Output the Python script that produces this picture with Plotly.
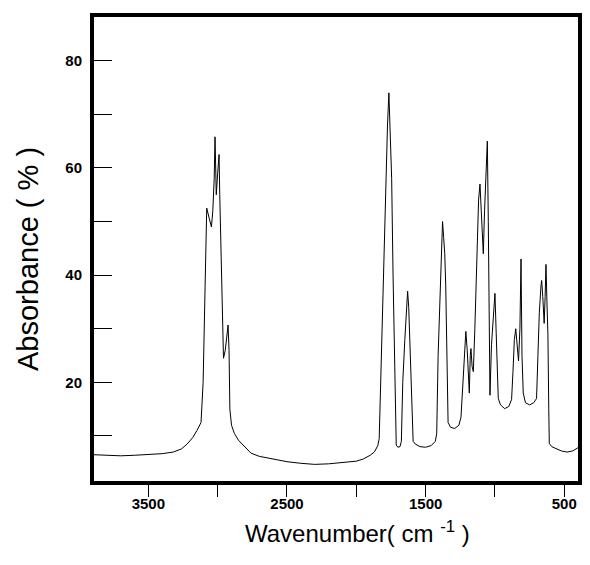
import plotly.graph_objects as go

wavenumber = [3892, 3800, 3700, 3600, 3500, 3400, 3320, 3260, 3220, 3180, 3150, 3120,
              3105, 3095, 3085, 3079, 3060, 3045, 3035, 3025, 3019, 3010, 3000, 2990,
              2985, 2978, 2970, 2962, 2958, 2945, 2935, 2925, 2918, 2912, 2900, 2880,
              2850, 2800, 2760, 2700, 2600, 2500, 2400, 2300, 2200, 2100, 2000, 1950,
              1900, 1870, 1845, 1835, 1820, 1805, 1790, 1775, 1765, 1760, 1752, 1745,
              1735, 1725, 1718, 1712, 1700, 1685, 1675, 1665, 1650, 1640, 1630, 1622,
              1612, 1600, 1590, 1575, 1540, 1500, 1460, 1430, 1420, 1410, 1395, 1385,
              1378, 1370, 1362, 1355, 1345, 1338, 1320, 1290, 1260, 1245, 1235, 1220,
              1210, 1200, 1190, 1185, 1178, 1173, 1165, 1156, 1145, 1130, 1118, 1108,
              1100, 1090, 1084, 1075, 1065, 1055, 1048, 1042, 1036, 1025, 1012, 1000,
              992, 985, 976, 960, 930, 900, 880, 870, 860, 850, 842, 830,
              820, 812, 805, 796, 780, 750, 720, 700, 690, 680, 668, 663,
              655, 645, 638, 632, 625, 618, 612, 608, 590, 560, 520, 480,
              440, 401]
absorbance = [6.5, 6.4, 6.3, 6.4, 6.5, 6.7, 7.0, 7.6, 8.5, 9.7, 11.0, 12.5,
              20, 35, 48, 52.5, 50.5, 49, 52, 58, 65.8, 55, 59, 62.5,
              55, 48, 40, 30, 24.5, 26, 29, 30.7, 26, 15, 12, 10.5,
              9.2, 7.8, 6.8, 6.2, 5.7, 5.2, 4.9, 4.7, 4.8, 5.0, 5.3, 5.7,
              6.4, 7.0, 8.2, 9.5, 25, 42, 55, 68, 74, 70, 65, 58,
              40, 25, 12, 8.3, 7.9, 8.0, 9, 20, 28, 34, 37, 34,
              25, 15, 9, 8.5, 8.0, 7.9, 8.2, 9.0, 10.5, 25, 38, 46,
              50, 47, 44, 38, 22, 12.5, 11.6, 11.4, 12, 13.5, 18, 26,
              29.5, 26, 21, 18, 25, 26.3, 23, 22, 30, 45, 54, 57,
              52, 46, 44, 52, 60, 65, 50, 30, 17.6, 27, 33, 36.6,
              30, 22, 17, 15.8, 15.1, 15.5, 16.8, 22, 28, 30, 27, 24,
              30, 43, 25, 18, 16.2, 15.8, 16.2, 17, 25, 33, 38, 39,
              36, 31, 36, 42, 35, 29, 15, 8.6, 8.0, 7.6, 7.2, 7.0,
              7.2, 7.8]

x_tickvals = [3500, 3000, 2500, 2000, 1500, 1000, 500]
x_ticktext = ["3500", "", "2500", "", "1500", "", "500"]
y_tickvals = [10, 20, 30, 40, 50, 60, 70, 80]
y_ticktext = ["", "20", "", "40", "", "60", "", "80"]
x_title = "Wavenumber( cm <sup>-1</sup> )"
y_title = "Absorbance ( % )"

fig = go.Figure(go.Scatter(x=wavenumber, y=absorbance, mode="lines",
                           line=dict(color="black", width=1)))

font_family = "Liberation Sans, Arial, sans-serif"
# page body adds an 8px margin, so the figure is kept inside the window
fig.update_layout(
    width=582, height=549,
    margin=dict(l=86, r=12, t=9, b=76),
    paper_bgcolor="white", plot_bgcolor="white",
    showlegend=False,
    font=dict(family=font_family, color="black"),
    annotations=[
        dict(text=x_title, xref="paper", yref="paper", x=0.5434, y=-0.11,
             xanchor="center", yanchor="middle", showarrow=False,
             font=dict(size=24)),
        dict(text=y_title, xref="paper", yref="paper", x=-0.1364, y=0.4784,
             xanchor="center", yanchor="middle", showarrow=False, textangle=-90,
             font=dict(size=29)),
    ],
)
fig.update_xaxes(
    range=[3892, 401], showgrid=False, zeroline=False, automargin=False,
    showline=True, linewidth=4, linecolor="black", mirror=True,
    tickmode="array", tickvals=x_tickvals, ticktext=x_ticktext,
    ticks="outside", ticklen=12, tickwidth=1, tickcolor="black",
    ticklabelstandoff=-6,
    tickfont=dict(size=15, weight="bold"),
)
fig.update_yaxes(
    range=[1.6, 88.15], showgrid=False, zeroline=False, automargin=False,
    showline=True, linewidth=4, linecolor="black", mirror=True,
    tickmode="array", tickvals=y_tickvals, ticktext=y_ticktext,
    ticks="inside", ticklen=18, tickwidth=1, tickcolor="black",
    ticklabelstandoff=5,
    tickfont=dict(size=15, weight="bold"),
)

fig.write_html("out.html")
